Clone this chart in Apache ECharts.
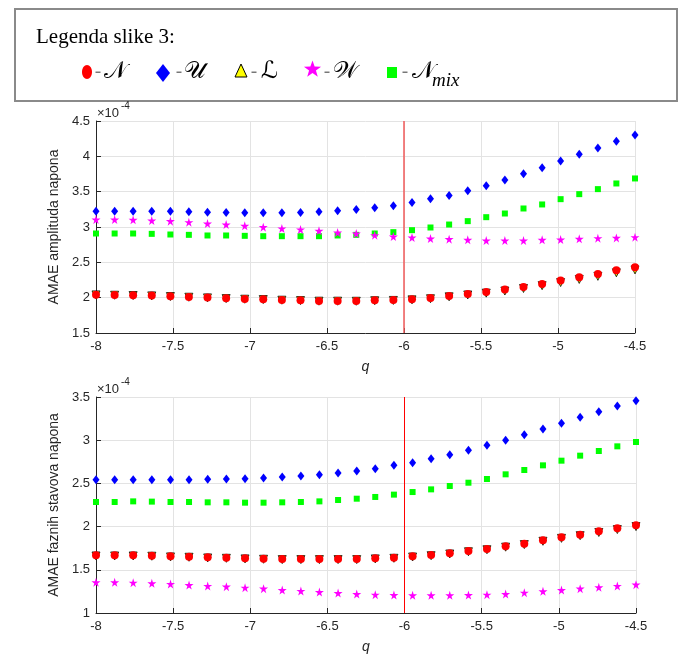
<!DOCTYPE html>
<html>
<head>
    <meta charset="UTF-8">
    <title>AMAE vs q</title>
    <script src="https://cdn.jsdelivr.net/npm/echarts@6/dist/echarts.min.js"></script>
    <style>
        body { margin: 0; background: #fff; }
        #chart { width: 680px; height: 655px; }
    </style>
</head>
<body>
    <div id="chart"></div>
    <script type="text/javascript">

        // q values (30 points from -8 to -4.5)
        var qVals = [-8, -7.879, -7.759, -7.638, -7.517, -7.397, -7.276, -7.155, -7.034, -6.914,
                     -6.793, -6.672, -6.552, -6.431, -6.31, -6.19, -6.069, -5.948, -5.828, -5.707,
                     -5.586, -5.466, -5.345, -5.224, -5.103, -4.983, -4.862, -4.741, -4.621, -4.5];

        // top plot: AMAE amplituda napona (x 1e-4)
        var ampN = [2.043, 2.038, 2.034, 2.029, 2.020, 2.010, 2.001, 1.991, 1.982, 1.977, 1.968, 1.963, 1.954, 1.954, 1.954,
                    1.963, 1.968, 1.977, 1.996, 2.024, 2.053, 2.081, 2.114, 2.152, 2.194, 2.242, 2.289, 2.336, 2.388, 2.431];
        var ampU = [3.224, 3.224, 3.224, 3.224, 3.224, 3.215, 3.210, 3.205, 3.201, 3.201, 3.201, 3.205, 3.215, 3.229, 3.248,
                    3.272, 3.300, 3.347, 3.399, 3.446, 3.513, 3.583, 3.664, 3.754, 3.839, 3.933, 4.028, 4.117, 4.212, 4.302];
        var ampL = [2.039, 2.034, 2.030, 2.025, 2.016, 2.006, 1.997, 1.987, 1.978, 1.973, 1.964, 1.959, 1.950, 1.950, 1.949,
                    1.957, 1.961, 1.969, 1.985, 2.012, 2.038, 2.064, 2.094, 2.130, 2.170, 2.214, 2.258, 2.302, 2.352, 2.393];
        var ampW = [3.106, 3.106, 3.102, 3.092, 3.083, 3.068, 3.049, 3.035, 3.016, 2.998, 2.979, 2.965, 2.946, 2.922, 2.908,
                    2.884, 2.865, 2.851, 2.837, 2.828, 2.818, 2.809, 2.809, 2.809, 2.818, 2.823, 2.832, 2.842, 2.846, 2.856];
        var ampMix = [2.908, 2.908, 2.908, 2.903, 2.894, 2.889, 2.880, 2.880, 2.875, 2.870, 2.870, 2.870, 2.870, 2.880, 2.889,
                      2.908, 2.927, 2.955, 2.993, 3.035, 3.083, 3.139, 3.191, 3.262, 3.319, 3.394, 3.465, 3.536, 3.616, 3.687];

        // bottom plot: AMAE faznih stavova napona (x 1e-4)
        var phN = [1.667, 1.667, 1.667, 1.664, 1.656, 1.652, 1.644, 1.640, 1.633, 1.629, 1.625, 1.625, 1.625, 1.625, 1.625,
                   1.633, 1.640, 1.656, 1.671, 1.691, 1.718, 1.741, 1.772, 1.802, 1.841, 1.876, 1.907, 1.945, 1.980, 2.015];
        var phU = [2.543, 2.543, 2.543, 2.543, 2.543, 2.543, 2.547, 2.551, 2.555, 2.563, 2.574, 2.586, 2.601, 2.620, 2.644,
                   2.671, 2.709, 2.740, 2.786, 2.833, 2.883, 2.941, 2.998, 3.064, 3.130, 3.195, 3.265, 3.330, 3.396, 3.458];
        var phL = [1.660, 1.660, 1.660, 1.657, 1.649, 1.645, 1.637, 1.633, 1.626, 1.622, 1.618, 1.618, 1.618, 1.618, 1.618,
                   1.626, 1.633, 1.648, 1.663, 1.683, 1.709, 1.732, 1.762, 1.792, 1.830, 1.864, 1.895, 1.932, 1.966, 2.000];
        var phW = [1.355, 1.355, 1.351, 1.343, 1.336, 1.324, 1.313, 1.305, 1.293, 1.282, 1.266, 1.255, 1.243, 1.231, 1.220,
                   1.212, 1.208, 1.204, 1.204, 1.204, 1.208, 1.212, 1.220, 1.235, 1.251, 1.266, 1.282, 1.297, 1.313, 1.328];
        var phMix = [2.285, 2.285, 2.292, 2.289, 2.285, 2.285, 2.281, 2.281, 2.277, 2.277, 2.281, 2.285, 2.292, 2.308, 2.323,
                     2.343, 2.370, 2.400, 2.431, 2.470, 2.508, 2.551, 2.605, 2.655, 2.709, 2.763, 2.821, 2.875, 2.929, 2.979];

        var xTicks = { min: -8, max: -4.5, step: 0.5 };
        var yTop = { min: 1.5, max: 4.5, step: 0.5 };
        var yBottom = { min: 1, max: 3.5, step: 0.5 };
        var qMark = -6;

        var legendTitle = 'Legenda slike 3:';
        var legendLetters = ['\u{1D4A9}', '\u{1D4B0}', '\u2112', '\u{1D4B2}', '\u{1D4A9}'];

        var STAR = 'path://M50,0 L61,35 L98,35 L68,57 L79,91 L50,70 L21,91 L32,57 L2,35 L39,35 Z';
        var TXT = '#262626';
        var FONT = '"Liberation Sans", Arial, sans-serif';

        function pairs(vals) {
            return qVals.map(function (q, i) { return [q, vals[i]]; });
        }

        function scatter(name, vals, idx, symbol, size, color, extra) {
            var s = {
                name: name,
                type: 'scatter',
                xAxisIndex: idx,
                yAxisIndex: idx,
                symbol: symbol,
                symbolSize: size,
                itemStyle: { color: color, opacity: 1 },
                data: pairs(vals),
                silent: true
            };
            if (extra) {
                Object.keys(extra).forEach(function (k) { s[k] = extra[k]; });
            }
            return s;
        }

        function xAxis(idx) {
            return {
                type: 'value', gridIndex: idx,
                min: xTicks.min, max: xTicks.max, interval: xTicks.step,
                name: 'q', nameLocation: 'middle', nameGap: 27,
                nameTextStyle: { fontFamily: FONT, fontSize: 14, fontStyle: 'italic', color: TXT },
                axisLine: { show: true, onZero: false, lineStyle: { color: TXT, width: 1 } },
                axisTick: { show: true, inside: true, length: 5, lineStyle: { color: TXT } },
                axisLabel: { fontFamily: FONT, fontSize: 13, color: TXT, margin: 7 },
                splitLine: { show: true, lineStyle: { color: '#e3e3e3', width: 1 } }
            };
        }

        function yAxis(idx, rng, title) {
            return {
                type: 'value', gridIndex: idx,
                min: rng.min, max: rng.max, interval: rng.step,
                name: title, nameLocation: 'middle', nameGap: 34, nameRotate: 90,
                nameTextStyle: { fontFamily: FONT, fontSize: 14, color: TXT },
                axisLine: { show: true, onZero: false, lineStyle: { color: TXT, width: 1 } },
                axisTick: { show: true, inside: true, length: 5, lineStyle: { color: TXT } },
                axisLabel: { fontFamily: FONT, fontSize: 13, color: TXT, margin: 6 },
                splitLine: { show: true, lineStyle: { color: '#e3e3e3', width: 1 } }
            };
        }

        function markLine(color, width) {
            return {
                silent: true, symbol: 'none', animation: false,
                label: { show: false },
                lineStyle: { color: color, width: width, type: 'solid' },
                data: [{ xAxis: qMark }]
            };
        }

        function buildSeries(idx, n, u, l, w, mix, lineColor, lineWidth) {
            return [
                scatter('U', u, idx, 'diamond', [7, 9], '#0000ff'),
                scatter('Nmix', mix, idx, 'rect', 6, '#00ff00'),
                scatter('W', w, idx, STAR, 9, '#ff00ff'),
                scatter('L', l, idx, 'triangle', 8, '#ffff00', {
                    symbolRotate: 180,
                    itemStyle: { color: '#ffff00', borderColor: '#000', borderWidth: 0.8, opacity: 1 }
                }),
                scatter('N', n, idx, 'circle', 8, '#ff0000', { markLine: markLine(lineColor, lineWidth) })
            ];
        }

        // five-point star outline for the legend
        function starPoints(cx, cy, ro, ri) {
            var pts = [];
            for (var k = 0; k < 10; k++) {
                var r = k % 2 === 0 ? ro : ri;
                var a = -Math.PI / 2 + k * Math.PI / 5;
                pts.push([cx + r * Math.cos(a), cy + r * Math.sin(a)]);
            }
            return pts;
        }

        // legend box drawn as graphics
        function legendGraphics() {
            var g = [];
            var cy = 72;
            g.push({ type: 'rect', shape: { x: 15, y: 9, width: 662, height: 92 },
                     style: { fill: '#fff', stroke: '#8a8a8a', lineWidth: 2 }, z: 1 });
            g.push({ type: 'text', x: 36, y: 37, z: 2,
                     style: { text: legendTitle, fontFamily: '"Liberation Serif", "Times New Roman", serif',
                              fontSize: 21, fill: '#000', verticalAlign: 'middle' } });
            // markers
            g.push({ type: 'ellipse', shape: { cx: 87, cy: cy, rx: 5, ry: 7 }, style: { fill: '#ff0000' }, z: 2 });
            g.push({ type: 'polygon', shape: { points: [[163, 64], [170, 73], [163, 82], [156, 73]] },
                     style: { fill: '#0000ff' }, z: 2 });
            g.push({ type: 'polygon', shape: { points: [[241, 64], [247, 77], [235, 77]] },
                     style: { fill: '#ffff00', stroke: '#000', lineWidth: 1 }, z: 2 });
            g.push({ type: 'polygon', shape: { points: starPoints(312.5, 69.5, 9, 3.6) },
                     style: { fill: '#ff00ff' }, z: 2 });
            g.push({ type: 'rect', shape: { x: 387, y: 67, width: 10, height: 11 }, style: { fill: '#00ff00' }, z: 2 });
            // dashes and letters
            var dashX = [98, 179, 254, 327, 405];
            var letterX = [104, 184, 261, 333, 412];
            for (var i = 0; i < dashX.length; i++) {
                g.push({ type: 'rect', shape: { x: dashX[i] - 2.5, y: cy - 0.5, width: 5, height: 1.5 },
                         style: { fill: '#777' }, z: 2 });
                g.push({ type: 'text', x: letterX[i], y: cy, z: 2,
                         style: { text: legendLetters[i], fontFamily: '"DejaVu Serif", "DejaVu Sans", serif',
                                  fontSize: 24, fill: '#000', verticalAlign: 'middle' } });
            }
            g.push({ type: 'text', x: 432, y: 81, z: 2,
                     style: { text: 'mix', fontFamily: '"Liberation Serif", serif', fontSize: 19,
                              fontStyle: 'italic', fill: '#000', verticalAlign: 'middle' } });
            return g;
        }

        function exponentLabel(top) {
            return [
                { type: 'text', x: 97, y: top - 7.5, z: 2,
                  style: { text: '\u00d710', fontFamily: FONT, fontSize: 13, fill: TXT, verticalAlign: 'middle' } },
                { type: 'text', x: 121, y: top - 15, z: 2,
                  style: { text: '-4', fontFamily: FONT, fontSize: 10, fill: TXT, verticalAlign: 'middle' } }
            ];
        }

        var chart = echarts.init(document.getElementById('chart'), null, { renderer: 'canvas' });

        var option = {
            animation: false,
            backgroundColor: '#fff',
            grid: [
                { left: 96, top: 121, width: 539, height: 212 },
                { left: 96, top: 397, width: 540, height: 216 }
            ],
            xAxis: [xAxis(0), xAxis(1)],
            yAxis: [
                yAxis(0, yTop, 'AMAE amplituda napona'),
                yAxis(1, yBottom, 'AMAE faznih stavova napona')
            ],
            graphic: legendGraphics().concat(exponentLabel(121), exponentLabel(397)),
            series: buildSeries(0, ampN, ampU, ampL, ampW, ampMix, '#f05a5a', 1.5)
                .concat(buildSeries(1, phN, phU, phL, phW, phMix, '#ff0000', 1))
        };

        chart.setOption(option);
    </script>
</body>
</html>
